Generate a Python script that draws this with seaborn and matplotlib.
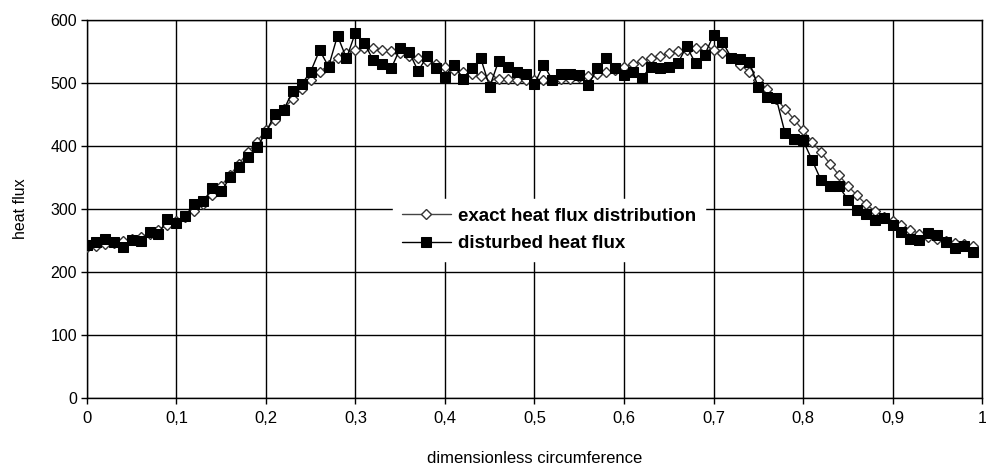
import matplotlib
matplotlib.use('Agg')
import matplotlib.pyplot as plt
import numpy as np
import pandas as pd
import seaborn as sns

# dimensionless circumference positions
position = [round(i * 0.01, 2) for i in range(100)]

# exact heat flux distribution
exact_flux = [
    240, 242, 244, 246, 249, 252, 256, 261, 267, 274,
    281, 288, 297, 308, 322, 337, 354, 372, 390, 407,
    425, 442, 459, 475, 490, 504, 517, 529, 539, 547,
    553, 556, 556, 553, 550, 547, 543, 539, 535, 530,
    526, 521, 517, 514, 511, 509, 507, 506, 505, 505,
    505, 505, 505, 506, 507, 509, 511, 514, 517, 521,
    526, 530, 535, 539, 543, 547, 550, 553, 556, 556,
    553, 547, 539, 529, 517, 504, 490, 475, 459, 442,
    425, 407, 390, 372, 354, 337, 322, 308, 297, 288,
    281, 274, 267, 261, 256, 252, 249, 246, 244, 242,
]

# disturbed heat flux
disturbed_flux = [
    243, 248, 253, 247, 240, 251, 250, 264, 261, 284,
    277, 289, 308, 312, 333, 328, 350, 367, 383, 398,
    421, 451, 457, 488, 498, 518, 552, 526, 575, 539,
    580, 563, 536, 530, 523, 555, 549, 519, 542, 524,
    510, 529, 507, 523, 539, 494, 535, 526, 517, 515,
    498, 529, 505, 515, 514, 513, 496, 523, 540, 524,
    513, 518, 508, 526, 523, 526, 531, 558, 531, 544,
    576, 565, 540, 538, 534, 493, 478, 476, 420, 411,
    409, 378, 346, 336, 336, 315, 298, 292, 283, 285,
    275, 264, 253, 251, 262, 259, 248, 238, 242, 232,
]

x_ticks = [0, 0.1, 0.2, 0.3, 0.4, 0.5, 0.6, 0.7, 0.8, 0.9, 1.0]
x_tick_labels = ['0', '0,1', '0,2', '0,3', '0,4', '0,5', '0,6', '0,7', '0,8', '0,9', '1']
y_ticks = [0, 100, 200, 300, 400, 500, 600]

df_exact = pd.DataFrame({'x': position, 'flux': exact_flux})
df_dist = pd.DataFrame({'x': position, 'flux': disturbed_flux})

sns.set_theme(style='white')
plt.rcParams['font.family'] = ['Liberation Sans', 'DejaVu Sans']
plt.rcParams['text.color'] = 'black'
plt.rcParams['axes.labelcolor'] = 'black'
plt.rcParams['xtick.color'] = 'black'
plt.rcParams['ytick.color'] = 'black'

fig, ax = plt.subplots(figsize=(9.87, 4.75), dpi=100)
fig.subplots_adjust(left=0.088, right=0.995, top=0.958, bottom=0.162)

sns.lineplot(
    data=df_exact, x='x', y='flux', ax=ax, color='#444444', linewidth=1.0,
    marker='D', markersize=5.5, markerfacecolor='white', markeredgecolor='#333333',
    markeredgewidth=1.0, label='exact heat flux distribution', zorder=3,
)
sns.lineplot(
    data=df_dist, x='x', y='flux', ax=ax, color='black', linewidth=1.0,
    marker='s', markersize=6.5, markerfacecolor='black', markeredgecolor='black',
    label='disturbed heat flux', zorder=4,
)

ax.set_xlim(0, 1)
ax.set_ylim(0, 600)
ax.set_xticks(x_ticks)
ax.set_xticklabels(x_tick_labels, fontsize=12)
ax.set_yticks(y_ticks)
ax.tick_params(axis='y', labelsize=11.5)
ax.tick_params(axis='both', direction='out', length=4, width=1, color='black',
               bottom=True, left=True)
ax.tick_params(axis='x', pad=5)
ax.tick_params(axis='y', pad=3)

ax.grid(True, color='black', linewidth=1.0)
ax.set_axisbelow(True)
for side in ['left', 'bottom', 'top', 'right']:
    ax.spines[side].set_color('black')
    ax.spines[side].set_linewidth(1.0)

ax.set_xlabel('dimensionless circumference', fontsize=12, labelpad=18)
ax.set_ylabel('heat flux', fontsize=11.5, labelpad=16)

leg = ax.legend(loc='upper left', bbox_to_anchor=(0.332, 0.55), frameon=True,
                fancybox=False, framealpha=1, facecolor='white', edgecolor='white',
                prop={'weight': 'bold', 'size': 13.5}, handlelength=2.6,
                handletextpad=0.4, labelspacing=0.55, borderpad=0.45)

plt.savefig('out.png', dpi=100)
